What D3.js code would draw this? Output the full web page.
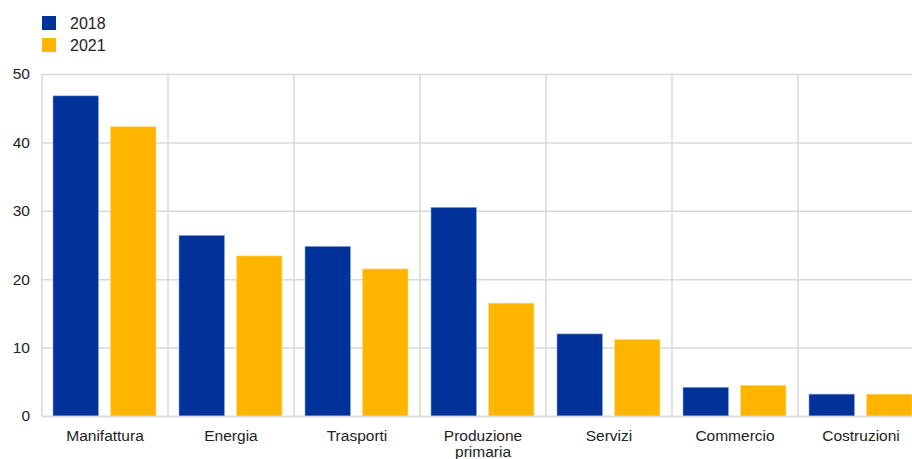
<!DOCTYPE html>
<html>
<head>
<meta charset="utf-8">
<script src="https://cdn.jsdelivr.net/npm/d3@7"></script>
<style>
  body { margin: 0; background: #fff; }
  svg { display: block; font-family: "Liberation Sans", Arial, sans-serif; }
  .tick text { fill: #222; font-size: 15.5px; }
  .grid line { stroke: #d9d9d9; stroke-width: 1.5; }
  .grid path { display: none; }
</style>
</head>
<body>
<div id="chart"></div>
<script>
// data
var categories = ["Manifattura", "Energia", "Trasporti", "Produzione primaria", "Servizi", "Commercio", "Costruzioni"];
var series = ["2018", "2021"];
var values2018 = [46.8, 26.4, 24.8, 30.5, 12.0, 4.2, 3.2];
var values2021 = [42.3, 23.4, 21.5, 16.5, 11.2, 4.5, 3.2];
var yTicks = [0, 10, 20, 30, 40, 50];
var colors = ["#003299", "#ffb400"];

var W = 912, H = 459;
var margin = {top: 74, right: -12, bottom: 43, left: 42},
  width = W - margin.left - margin.right,
  height = H - margin.top - margin.bottom;

var svg = d3.select("#chart").append("svg")
    .attr("width", W)
    .attr("height", H)
  .append("g")
    .attr("transform", "translate(" + margin.left + "," + margin.top + ")");

var x0 = d3.scaleBand().domain(categories).range([0, width]).paddingInner(0).paddingOuter(0);
var x1 = d3.scaleBand().domain(series).range([11, x0.bandwidth() - 12]).paddingInner(0.21);
var y = d3.scaleLinear().domain([0, 50]).range([height, 0]);

// horizontal gridlines
svg.append("g")
    .attr("class", "grid")
    .call(d3.axisLeft(y).tickValues(yTicks).tickSize(-width).tickFormat(""));

// vertical gridlines at category boundaries
svg.append("g")
    .attr("class", "grid")
    .selectAll("line")
    .data(categories)
  .enter().append("line")
    .attr("x1", function(d) { return x0(d); })
    .attr("x2", function(d) { return x0(d); })
    .attr("y1", 0)
    .attr("y2", height);

var rows = categories.map(function(c, i) { return {cat: c, vals: [values2018[i], values2021[i]]}; });

var groups = svg.selectAll(".cat")
    .data(rows)
  .enter().append("g")
    .attr("class", "cat")
    .attr("transform", function(d) { return "translate(" + x0(d.cat) + ",0)"; });

groups.selectAll("rect")
    .data(function(d) { return d.vals.map(function(v, i) { return {key: series[i], value: v, i: i}; }); })
  .enter().append("rect")
    .attr("x", function(d) { return x1(d.key); })
    .attr("width", x1.bandwidth())
    .attr("y", function(d) { return y(d.value); })
    .attr("height", function(d) { return height - y(d.value); })
    .attr("fill", function(d) { return colors[d.i]; })
    .attr("stroke", function(d) { return d.i === 0 ? "#8fa6d6" : "#ffe08a"; })
    .attr("stroke-width", 0.6);

// y axis labels
var yAxis = svg.append("g")
    .call(d3.axisLeft(y).tickValues(yTicks).tickSize(0).tickPadding(12));
yAxis.select(".domain").remove();

// x axis labels
var xAxis = svg.append("g")
    .attr("transform", "translate(0," + height + ")")
    .call(d3.axisBottom(x0).tickSize(0).tickPadding(14));
xAxis.select(".domain").attr("stroke", "#d9d9d9").attr("stroke-width", 1.5);
xAxis.selectAll(".tick text").each(function(d) {
  var words = d.split(" ");
  if (words.length > 1) {
    var t = d3.select(this).text(null);
    words.forEach(function(w, i) {
      t.append("tspan").attr("x", 0).attr("dy", i === 0 ? "0.71em" : "1.05em").text(w);
    });
  }
});

// legend
var legend = d3.select("svg").append("g")
    .attr("transform", "translate(42,16)");
var items = legend.selectAll("g")
    .data(series)
  .enter().append("g")
    .attr("transform", function(d, i) { return "translate(0," + (i * 22) + ")"; });
items.append("rect")
    .attr("width", 14)
    .attr("height", 14)
    .attr("fill", function(d, i) { return colors[i]; });
items.append("text")
    .attr("x", 28)
    .attr("y", 13)
    .attr("fill", "#222")
    .style("font-size", "16px")
    .text(function(d) { return d; });
</script>
</body>
</html>
